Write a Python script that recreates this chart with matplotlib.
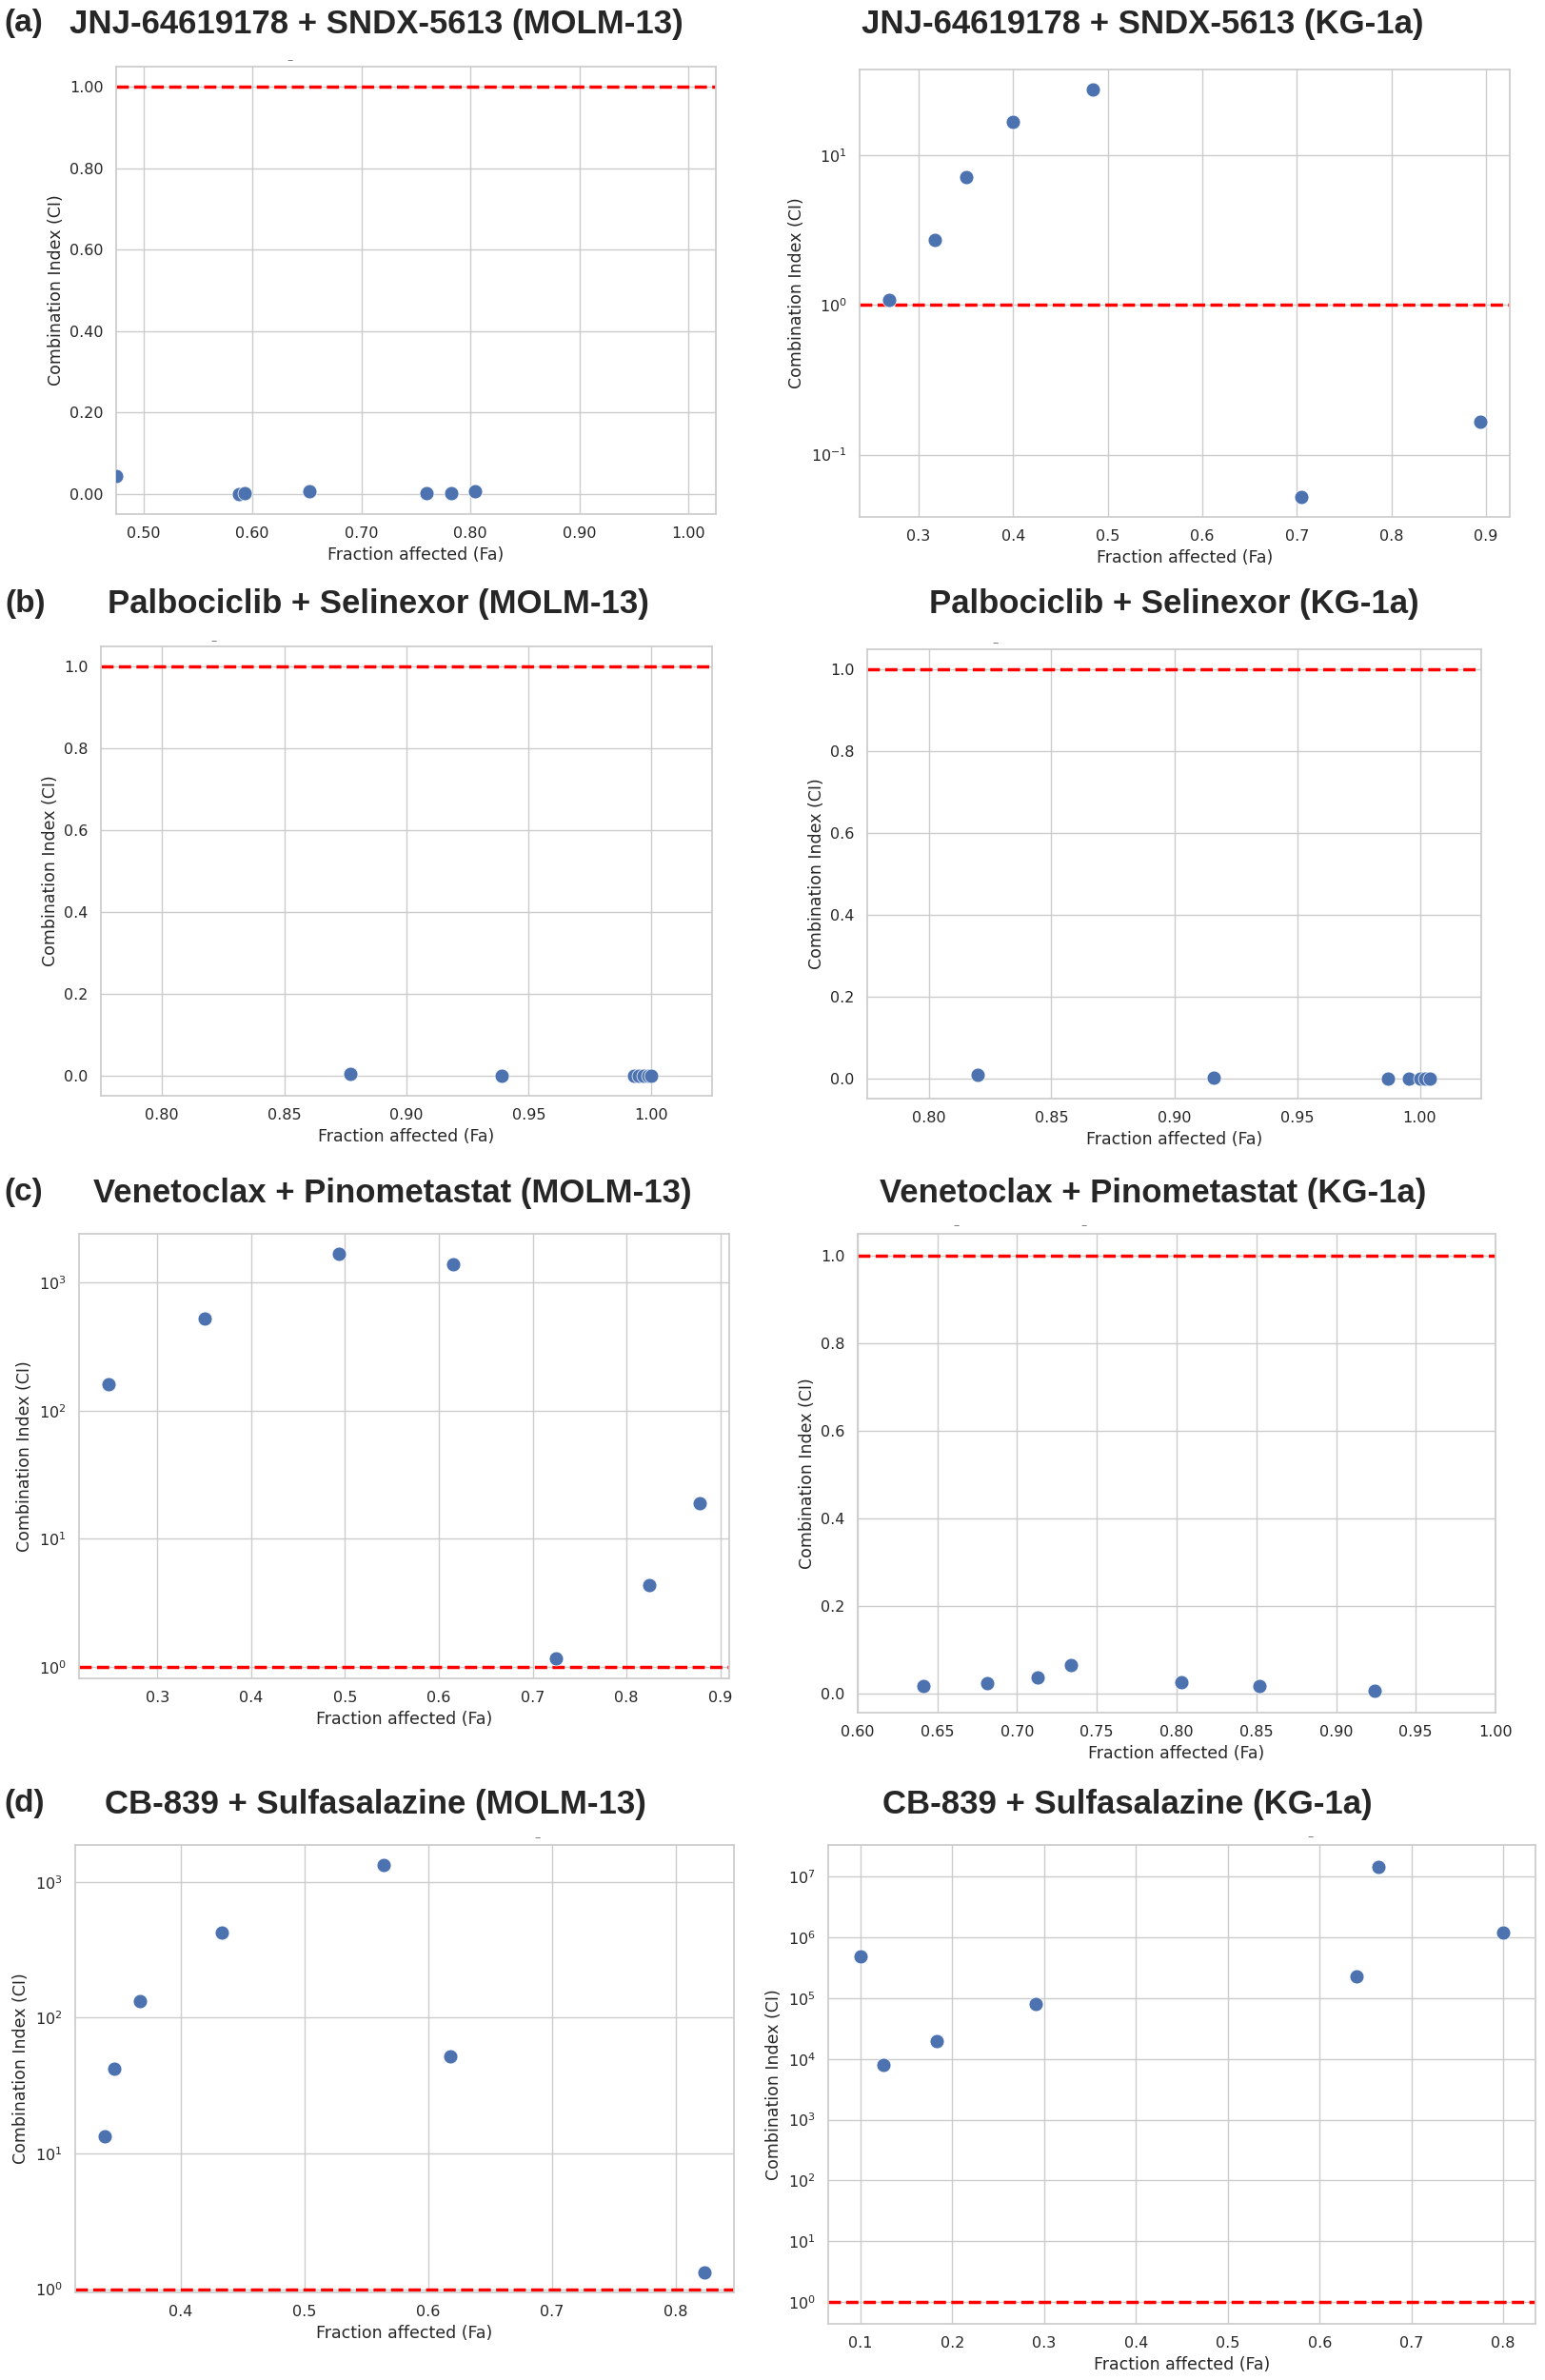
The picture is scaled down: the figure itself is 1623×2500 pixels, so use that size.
import numpy as np
import matplotlib
matplotlib.use("Agg")
import matplotlib.pyplot as plt
import matplotlib.ticker as mticker
import seaborn as sns

sns.set_theme(style="whitegrid")
plt.rcParams["font.family"] = ["DejaVu Sans"]

W, H = 1624, 2500
POINT_COLOR = "#4C72B0"

# ── data (Fa, CI) ─────────────────────────────────────────────────────────────
a1_fa = [0.475, 0.588, 0.593, 0.652, 0.760, 0.782, 0.804]
a1_ci = [0.043, 0.0005, 0.001, 0.006, 0.002, 0.003, 0.006]

a2_fa = [0.269, 0.317, 0.350, 0.400, 0.484, 0.705, 0.894]
a2_ci = [1.09, 2.73, 7.22, 16.9, 27.5, 0.0524, 0.166]

b1_fa = [0.877, 0.939, 0.993, 0.995, 0.997, 0.999, 1.000]
b1_ci = [0.0045, 0.0003, 0.0002, 0.0002, 0.0002, 0.0002, 0.0002]

b2_fa = [0.820, 0.916, 0.987, 0.9955, 1.000, 1.002, 1.004]
b2_ci = [0.008, 0.001, 0.0003, 0.0003, 0.0002, 0.0002, 0.0002]

c1_fa = [0.248, 0.350, 0.494, 0.615, 0.725, 0.824, 0.878]
c1_ci = [160, 524, 1668, 1387, 1.17, 4.33, 19.0]

c2_fa = [0.641, 0.681, 0.713, 0.734, 0.803, 0.852, 0.924]
c2_ci = [0.018, 0.0245, 0.036, 0.065, 0.025, 0.017, 0.006]

d1_fa = [0.339, 0.346, 0.367, 0.433, 0.564, 0.618, 0.823]
d1_ci = [13.3, 42.0, 133, 423, 1325, 51.8, 1.335]

d2_fa = [0.100, 0.125, 0.183, 0.291, 0.640, 0.664, 0.800]
d2_ci = [4.8e5, 7.9e3, 1.99e4, 7.9e4, 2.31e5, 1.45e7, 1.18e6]

# ── panel layout (pixel boxes: left, top, right, bottom) ─────────────────────
panels = [
    # fa, ci, box, log, xlim, fmt2
    (a1_fa, a1_ci, (122, 70, 752, 540), False, (0.475, 1.025), True),
    (a2_fa, a2_ci, (903, 73, 1586, 543), True, None, False),
    (b1_fa, b1_ci, (106, 679, 748, 1151), False, (0.775, 1.025), False),
    (b2_fa, b2_ci, (911, 682, 1556, 1154), False, (0.775, 1.025), False),
    (c1_fa, c1_ci, (83, 1296, 766, 1763), True, None, False),
    (c2_fa, c2_ci, (901, 1296, 1571, 1799), False, (0.60, 1.00), False),
    (d1_fa, d1_ci, (79, 1938, 771, 2408), True, None, False),
    (d2_fa, d2_ci, (870, 1938, 1613, 2441), True, None, False),
]

titles = [
    ("JNJ-64619178 + SNDX-5613 (MOLM-13)", 395, 25),
    ("JNJ-64619178 + SNDX-5613 (KG-1a)", 1200, 26),
    ("Palbociclib + Selinexor (MOLM-13)", 397, 634),
    ("Palbociclib + Selinexor (KG-1a)", 1233, 634),
    ("Venetoclax + Pinometastat (MOLM-13)", 412, 1253),
    ("Venetoclax + Pinometastat (KG-1a)", 1211, 1253),
    ("CB-839 + Sulfasalazine (MOLM-13)", 394, 1895),
    ("CB-839 + Sulfasalazine (KG-1a)", 1184, 1896),
]
letters = [("(a)", 4, 25), ("(b)", 5, 634), ("(c)", 4, 1253), ("(d)", 4, 1895)]

# stray little marks above some panels in the original composite
stray = [(305, 64), (225, 674), (1046, 676), (1005, 1288), (1139, 1288),
         (565, 1931), (1377, 1930)]

fig = plt.figure(figsize=(W / 100, H / 100), dpi=100)

for fa, ci, (l, t, r, b), logy, xlim, fmt2 in panels:
    ax = fig.add_axes([l / W, 1 - b / H, (r - l) / W, (b - t) / H])
    ax.scatter(fa, ci, s=115, color=POINT_COLOR, edgecolor="white",
               linewidth=0.5, zorder=3)
    if logy:
        ax.set_yscale("log")
        ax.yaxis.set_major_locator(mticker.LogLocator(base=10, subs=(1.0,), numticks=30))
        ax.yaxis.set_minor_locator(mticker.NullLocator())
    ax.axhline(1.0, color="red", linestyle="--", linewidth=2.5, zorder=2)
    if xlim is not None:
        ax.set_xlim(*xlim)
    if fmt2:
        ax.xaxis.set_major_formatter(mticker.FormatStrFormatter("%.2f"))
        ax.yaxis.set_major_formatter(mticker.FormatStrFormatter("%.2f"))
    ax.set_xlabel("Fraction affected (Fa)", fontsize=12.5)
    ax.set_ylabel("Combination Index (CI)", fontsize=12.5)
    ax.tick_params(labelsize=11.5)

for txt, x, y in titles:
    fig.text(x / W, 1 - y / H, txt, ha="center", va="center",
             fontsize=25, fontweight="bold", family=["Liberation Sans", "DejaVu Sans"])
for txt, x, y in letters:
    fig.text(x / W, 1 - y / H, txt, ha="left", va="center",
             fontsize=24, fontweight="bold", family=["Liberation Sans", "DejaVu Sans"])
for x, y in stray:
    fig.text(x / W, 1 - y / H, "–", ha="center", va="center",
             fontsize=9, color="#777777")

fig.savefig("out.png", dpi=100)
plt.close(fig)
